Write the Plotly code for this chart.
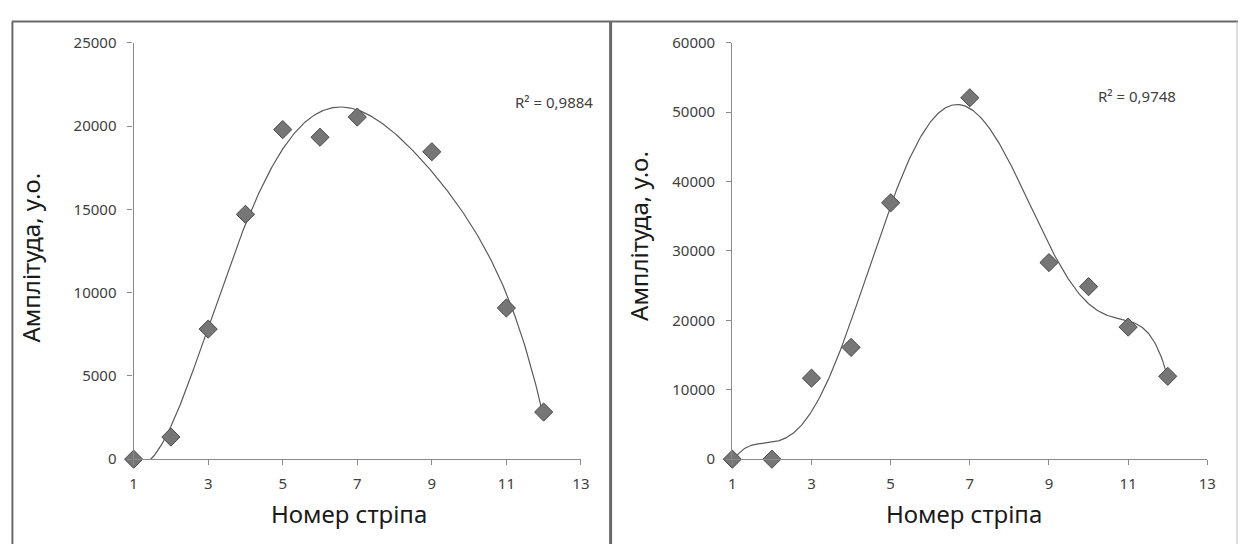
import numpy as np
import plotly.graph_objects as go

# ---- data ----
strip_left = [1, 2, 3, 4, 5, 6, 7, 9, 11, 12]
amp_left = [0, 1330, 7810, 14700, 19790, 19330, 20540, 18460, 9080, 2830]
r2_left = "R² = 0,9884"
deg_left = 5

strip_right = [1, 2, 3, 4, 5, 7, 9, 10, 11, 12]
amp_right = [0, 0, 11670, 16110, 36940, 52080, 28330, 24860, 19030, 11940]
r2_right = "R² = 0,9748"
deg_right = 6

x_ticks = [1, 3, 5, 7, 9, 11, 13]
y_ticks_left = [0, 5000, 10000, 15000, 20000, 25000]
y_ticks_right = [0, 10000, 20000, 30000, 40000, 50000, 60000]

x_title = "Номер стріпа"
y_title = "Амплітуда, у.о."

W, H = 1247, 553
def px(x): return x / W
def py(y): return 1 - y / H

def trend(x, y, deg):
    c = np.polyfit(x, y, deg)
    xs = np.linspace(min(x), max(x), 400)
    return xs, np.polyval(c, xs)

fig = go.Figure()

xl, yl = trend(strip_left, amp_left, deg_left)
xr, yr = trend(strip_right, amp_right, deg_right)

line_style = dict(color="#5a5a5a", width=1.2)
marker_style = dict(symbol="diamond", size=14, color="#767676",
                    line=dict(color="#4a4a4a", width=1))

fig.add_trace(go.Scatter(x=xl, y=yl, mode="lines", line=line_style,
                         xaxis="x", yaxis="y", hoverinfo="skip"))
fig.add_trace(go.Scatter(x=strip_left, y=amp_left, mode="markers", marker=marker_style,
                         xaxis="x", yaxis="y", cliponaxis=False))
fig.add_trace(go.Scatter(x=xr, y=yr, mode="lines", line=line_style,
                         xaxis="x2", yaxis="y2", hoverinfo="skip"))
fig.add_trace(go.Scatter(x=strip_right, y=amp_right, mode="markers", marker=marker_style,
                         xaxis="x2", yaxis="y2", cliponaxis=False))

tickfont = dict(family="Noto Sans", size=15, color="#404040")
titlefont = dict(family="Noto Sans", size=24, color="#1a1a1a")
axcol = "#8a8a8a"

common_x = dict(range=[1, 13], tickvals=x_ticks, showline=True, linecolor=axcol,
                linewidth=1.3, ticks="outside", ticklen=5, tickcolor=axcol,
                showgrid=False, zeroline=False, tickfont=tickfont,
                ticklabelstandoff=6)
common_y = dict(showline=True, linecolor=axcol, linewidth=1.3, ticks="outside",
                ticklen=5, tickcolor=axcol, showgrid=False, zeroline=False,
                tickfont=tickfont, tickformat="d", ticklabelstandoff=8)

ydom = [py(465), py(33)]
fig.update_layout(
    width=W, height=H, margin=dict(l=0, r=0, t=0, b=0),
    paper_bgcolor="white", plot_bgcolor="white", showlegend=False,
    xaxis=dict(domain=[px(131), px(583)], anchor="y", **common_x),
    yaxis=dict(domain=ydom, anchor="x", range=[0, 25000], tickvals=y_ticks_left, **common_y),
    xaxis2=dict(domain=[px(736), px(1216)], anchor="y2", **common_x),
    yaxis2=dict(domain=ydom, anchor="x2", range=[0, 60000], tickvals=y_ticks_right, **common_y),
)

annotations = [
    dict(text=x_title, x=px(349), y=py(521), xref="paper", yref="paper",
         showarrow=False, font=titlefont, xanchor="center", yanchor="middle"),
    dict(text=x_title, x=px(970), y=py(521), xref="paper", yref="paper",
         showarrow=False, font=titlefont, xanchor="center", yanchor="middle"),
    dict(text=y_title, x=px(27), y=py(256), xref="paper", yref="paper", textangle=-90,
         showarrow=False, font=titlefont, xanchor="center", yanchor="middle"),
    dict(text=y_title, x=px(641), y=py(233), xref="paper", yref="paper", textangle=-90,
         showarrow=False, font=titlefont, xanchor="center", yanchor="middle"),
    dict(text=r2_left, x=px(556), y=py(82), xref="paper", yref="paper",
         showarrow=False, font=dict(family="Noto Sans", size=15, color="#404040")),
    dict(text=r2_right, x=px(1186), y=py(76), xref="paper", yref="paper",
         showarrow=False, font=dict(family="Noto Sans", size=15, color="#404040")),
]
fig.update_layout(annotations=annotations)

shapes = [
    dict(type="line", xref="paper", yref="paper", x0=px(8), x1=px(1247), y0=py(11), y1=py(11),
         line=dict(color="#6a6a6a", width=2)),
    dict(type="line", xref="paper", yref="paper", x0=px(8.5), x1=px(8.5), y0=py(11), y1=0,
         line=dict(color="#6a6a6a", width=2)),
    dict(type="line", xref="paper", yref="paper", x0=px(613), x1=px(613), y0=py(11), y1=0,
         line=dict(color="#6a6a6a", width=3)),
    dict(type="line", xref="paper", yref="paper", x0=px(1246), x1=px(1246), y0=py(11), y1=0,
         line=dict(color="#bdbdbd", width=1)),
]
fig.update_layout(shapes=shapes)

fig.write_html("out.html", config={"displayModeBar": False},
               post_script="document.body.style.margin='0';document.body.style.overflow='hidden';")
